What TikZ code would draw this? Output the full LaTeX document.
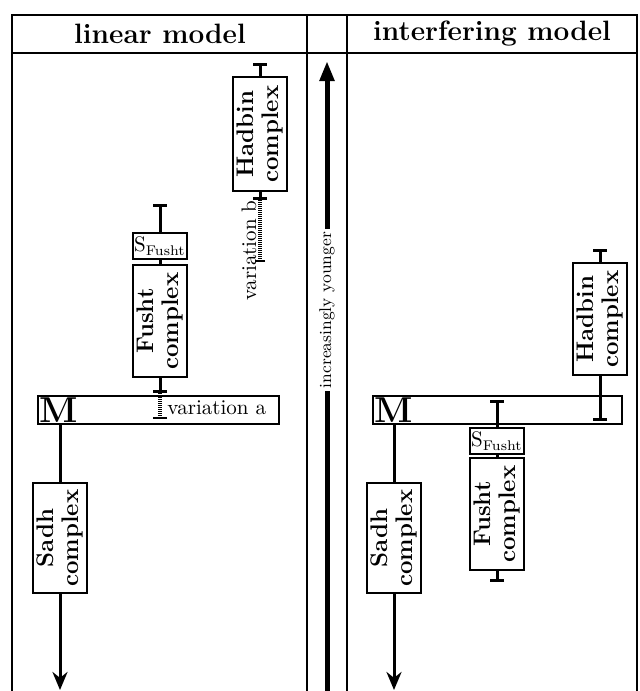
\documentclass[tikz,border=0pt]{standalone}
\usetikzlibrary{arrows.meta, positioning, calc}

\begin{document}
\begin{tikzpicture}[
  x=0.5pt, y=-0.5pt,
  frline/.style={draw=black, line width=0.75pt},
  cbox/.style={draw=black, fill=white, line width=0.7pt, rotate=90, align=center, inner sep=0pt,
    minimum height=27pt, font=\bfseries\fontsize{12}{12.5}\selectfont},
  sbox/.style={draw=black, fill=white, line width=0.7pt, inner sep=0pt,
    minimum width=27pt, minimum height=13pt, font=\fontsize{10.5}{11}\selectfont},
  mbar/.style={draw=black, fill=white, line width=0.7pt, inner sep=0pt, minimum height=14pt},
  mlab/.style={font=\bfseries\fontsize{18}{20}\selectfont, inner sep=0pt},
  stem/.style={draw=black, line width=1.5pt},
  varline/.style={draw=black, line width=2pt, dash pattern=on 0.5pt off 0.5pt},
  head/.style={font=\bfseries\fontsize{14}{16}\selectfont},
  lab/.style={font=\fontsize{10.5}{12}\selectfont, inner sep=1pt},
  agelab/.style={font=\fontsize{8.5}{10}\selectfont, fill=white, inner sep=1.5pt}
]
\useasboundingbox (0,0) rectangle (639,691);

%--------------------------------------------------------------
% Frame and headings
%--------------------------------------------------------------
\draw[frline] (12,691) -- (12,15) -- (637,15) -- (637,691);
\draw[frline] (12,53) -- (637,53);
\foreach \x in {307, 347}{ \draw[frline] (\x,15) -- (\x,691); }

\node[head] (hlin) at (160,34) {linear model};
\node[head] (hint) at (492,34) {interfering model};

% time axis
\coordinate (ageBot) at (327,691);
\coordinate (ageTop) at (327,61);
\draw[draw=black, line width=2.5pt, -{Triangle[length=10pt, width=7pt]}] (ageBot) -- (ageTop);
\node[agelab, rotate=90] (age) at (327,310) {increasingly younger};

%--------------------------------------------------------------
% Linear model
%--------------------------------------------------------------
\node[mbar, minimum width=120.5pt] (mbarL) at (158.5,410) {};
\node[mlab, anchor=west] (mL) at ([xshift=1pt]mbarL.west) {M};
\node[cbox, minimum width=55pt] (sadhL) at (60,538) {Sadh\\ complex};
\node[cbox, minimum width=56pt] (fushtL) at (160,321) {Fusht\\ complex};
\node[sbox] (sfL) at (160,246) {S$_\mathrm{Fusht}$};
\node[cbox, minimum width=57pt] (hadL) at (260,134) {Hadbin\\ complex};

\coordinate (sadhLend) at (60,690);
\draw[stem] (mbarL.south -| sadhL.east) -- (sadhL.east);
\draw[stem, -{Stealth[length=9pt, width=7.5pt]}] (sadhL.west) -- (sadhLend);

\coordinate (fushtLtop) at (160,204);
\coordinate (varaTop) at (160,393);
\coordinate (varaBot) at (160,419);
\draw[stem, {Bar[width=7pt]}-] (fushtLtop) -- (sfL.north);
\draw[stem] (sfL.south) -- (fushtL.east);
\draw[stem, -{Bar[width=7pt]}] (fushtL.west) -- (varaTop);
\draw[varline, -{Bar[width=7pt, line width=1pt]}] (varaTop) -- (varaBot);
\node[lab, anchor=west] (vara) at (165,408) {variation a};

\coordinate (hadLtop) at (260,63);
\coordinate (varbTop) at (260,200);
\coordinate (varbBot) at (260,262);
\draw[stem, {Bar[width=7pt]}-] (hadLtop) -- (hadL.east);
\draw[stem, -{Bar[width=7pt]}] (hadL.west) -- (varbTop);
\draw[varline, -{Bar[width=5pt, line width=1pt]}] (varbTop) -- (varbBot);
\node[lab, rotate=90, anchor=east] (varb) at (249,198) {variation b};

%--------------------------------------------------------------
% Interfering model
%--------------------------------------------------------------
\node[mbar, minimum width=124.5pt] (mbarR) at (497.5,410) {};
\node[mlab, anchor=west] (mR) at ([xshift=1pt]mbarR.west) {M};
\node[cbox, minimum width=55pt] (sadhR) at (394,538) {Sadh\\ complex};
\node[sbox] (sfR) at (497,441) {S$_\mathrm{Fusht}$};
\node[cbox, minimum width=56pt] (fushtR) at (497,514) {Fusht\\ complex};
\node[cbox, minimum width=56pt] (hadR) at (600,319) {Hadbin\\ complex};

\coordinate (sadhRend) at (394,690);
\draw[stem] (mbarR.south -| sadhR.east) -- (sadhR.east);
\draw[stem, -{Stealth[length=9pt, width=7.5pt]}] (sadhR.west) -- (sadhRend);

\coordinate (fushtRtop) at (497,400);
\coordinate (fushtRbot) at (497,582);
\draw[stem, {Bar[width=7pt]}-] (fushtRtop) -- (sfR.north);
\draw[stem] (sfR.south) -- (fushtR.east);
\draw[stem, -{Bar[width=7pt]}] (fushtR.west) -- (fushtRbot);

\coordinate (hadRtop) at (600,249);
\coordinate (hadRbot) at (600,421);
\draw[stem, {Bar[width=7pt]}-] (hadRtop) -- (hadR.east);
\draw[stem, -{Bar[width=7pt]}] (hadR.west) -- (hadRbot);

\end{tikzpicture}
\end{document}
